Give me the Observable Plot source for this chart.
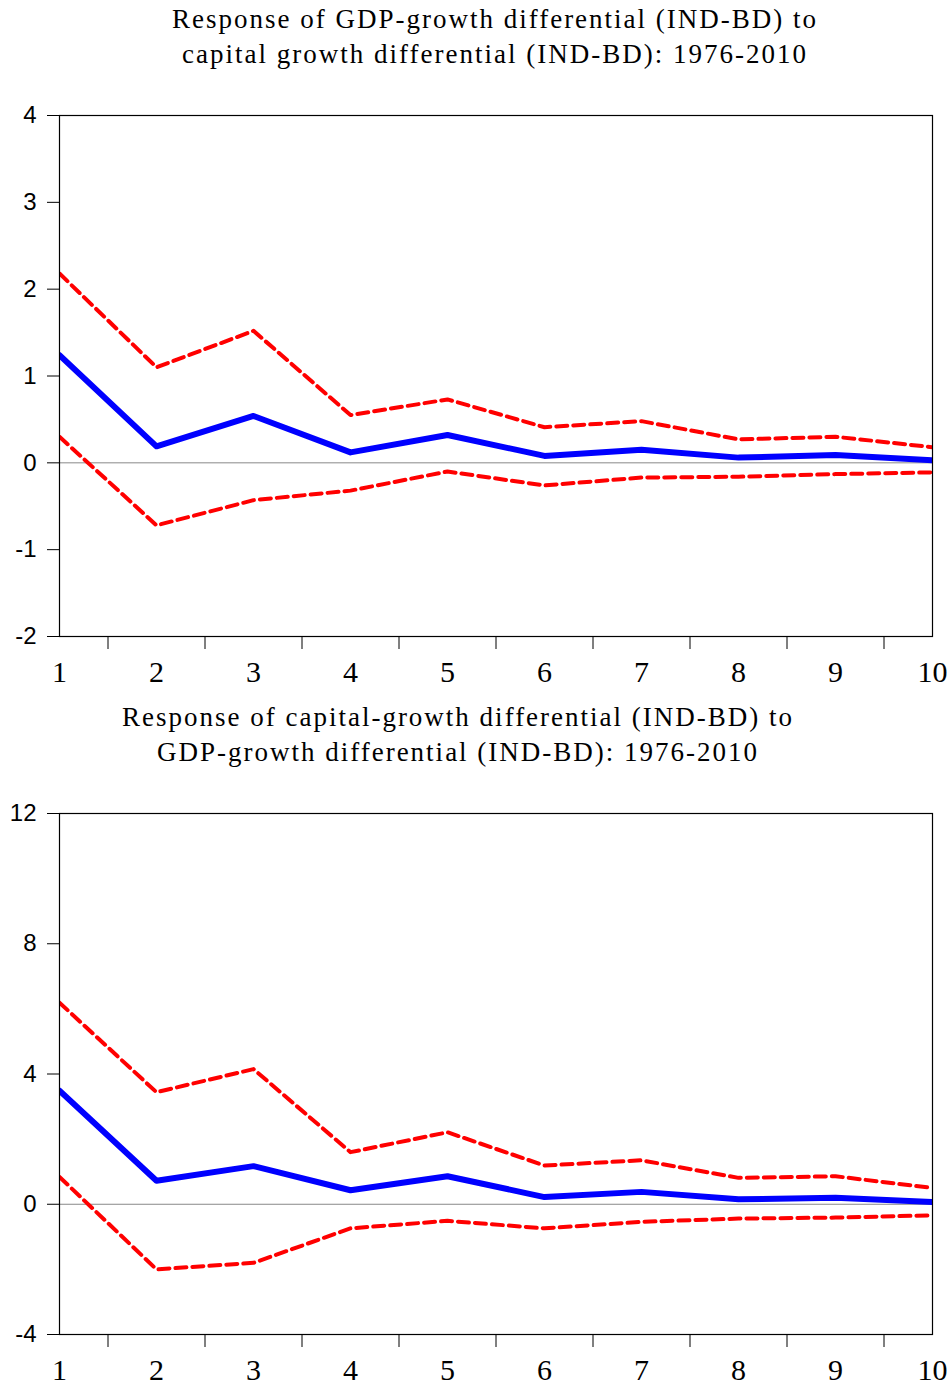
<!DOCTYPE html>
<html><head><meta charset="utf-8">
<script src="https://cdn.jsdelivr.net/npm/d3@7"></script>
<script src="https://cdn.jsdelivr.net/npm/@observablehq/plot@0.6"></script>
<style>
body{margin:0;background:#fff;}
.title{font-family:"Liberation Serif","Times New Roman",serif;font-size:27px;line-height:35px;letter-spacing:2px;word-spacing:0px;text-align:center;height:78px;padding-top:2px;color:#000;white-space:nowrap;box-sizing:content-box;}
svg{display:block;}
</style></head><body><div id="chart"></div>
<script>
// ---- data ----
const steps = [1,2,3,4,5,6,7,8,9,10];
const halfSteps = [1.5,2.5,3.5,4.5,5.5,6.5,7.5,8.5,9.5];

const title1 = ["Response of GDP-growth differential (IND-BD) to", "capital growth differential (IND-BD): 1976-2010"];
const title2 = ["Response of capital-growth differential (IND-BD) to", "GDP-growth differential (IND-BD): 1976-2010"];

// Panel 1: response of GDP-growth differential to capital growth differential
const gdpResp  = [1.24, 0.19, 0.54, 0.12, 0.32, 0.08, 0.15, 0.06, 0.09, 0.03];
const gdpUpper = [2.18, 1.10, 1.52, 0.55, 0.73, 0.41, 0.48, 0.27, 0.30, 0.18];
const gdpLower = [0.30, -0.72, -0.43, -0.32, -0.10, -0.26, -0.17, -0.16, -0.13, -0.11];
const yTicks1 = [-2,-1,0,1,2,3,4];

// Panel 2: response of capital-growth differential to GDP-growth differential
const capResp  = [3.49, 0.72, 1.17, 0.43, 0.86, 0.22, 0.38, 0.15, 0.20, 0.07];
const capUpper = [6.19, 3.44, 4.15, 1.60, 2.21, 1.19, 1.35, 0.81, 0.86, 0.50];
const capLower = [0.84, -2.00, -1.80, -0.74, -0.51, -0.74, -0.54, -0.44, -0.41, -0.34];
const yTicks2 = [-4,0,4,8,12];

// ---- drawing ----
function panel(titleLines, centerX, resp, upper, lower, yTicks) {
  const block = document.createElement("div");
  const t = document.createElement("div");
  t.className = "title";
  const W = 948;
  if (centerX >= W/2) { t.style.paddingLeft = (2*centerX - W) + "px"; }
  else { t.style.paddingRight = (W - 2*centerX) + "px"; }
  t.innerHTML = titleLines.map(s => `<div>${s}</div>`).join("");
  block.appendChild(t);

  const rows = steps.map((s, i) => ({step: s, resp: resp[i], upper: upper[i], lower: lower[i]}));
  const serif = "Liberation Serif, Times New Roman, serif";
  const sans = "Liberation Sans, Arial, sans-serif";
  const chart = Plot.plot({
    width: 948,
    height: 618,
    marginTop: 35,
    marginBottom: 62,
    marginLeft: 59,
    marginRight: 16,
    style: {color: "black", background: "white", overflow: "visible"},
    x: {domain: [1, 10]},
    y: {domain: [yTicks[0], yTicks[yTicks.length - 1]]},
    marks: [
      Plot.ruleY([0], {stroke: "#888", strokeWidth: 1}),
      Plot.line(rows, {x: "step", y: "upper", stroke: "#ff0000", strokeWidth: 4, strokeDasharray: "11,6", clip: true}),
      Plot.line(rows, {x: "step", y: "lower", stroke: "#ff0000", strokeWidth: 4, strokeDasharray: "11,6", clip: true}),
      Plot.line(rows, {x: "step", y: "resp", stroke: "#0000ff", strokeWidth: 6, clip: true}),
      Plot.frame({stroke: "black", strokeWidth: 1.2}),
      Plot.axisY(yTicks, {tickSize: 12, tickPadding: 11, fontSize: 24, fontFamily: sans, tickFormat: d => String(d), label: null, stroke: "black"}),
      Plot.axisX(halfSteps, {tickSize: 13, tickFormat: () => "", label: null, stroke: "black"}),
      Plot.axisX(steps, {tickSize: 0, tickPadding: 24, fontSize: 30, fontFamily: serif, tickFormat: d => String(d), label: null})
    ]
  });
  block.appendChild(chart);
  document.getElementById("chart").appendChild(block);
}

panel(title1, 495, gdpResp, gdpUpper, gdpLower, yTicks1);
panel(title2, 458, capResp, capUpper, capLower, yTicks2);
</script>
</body></html>
